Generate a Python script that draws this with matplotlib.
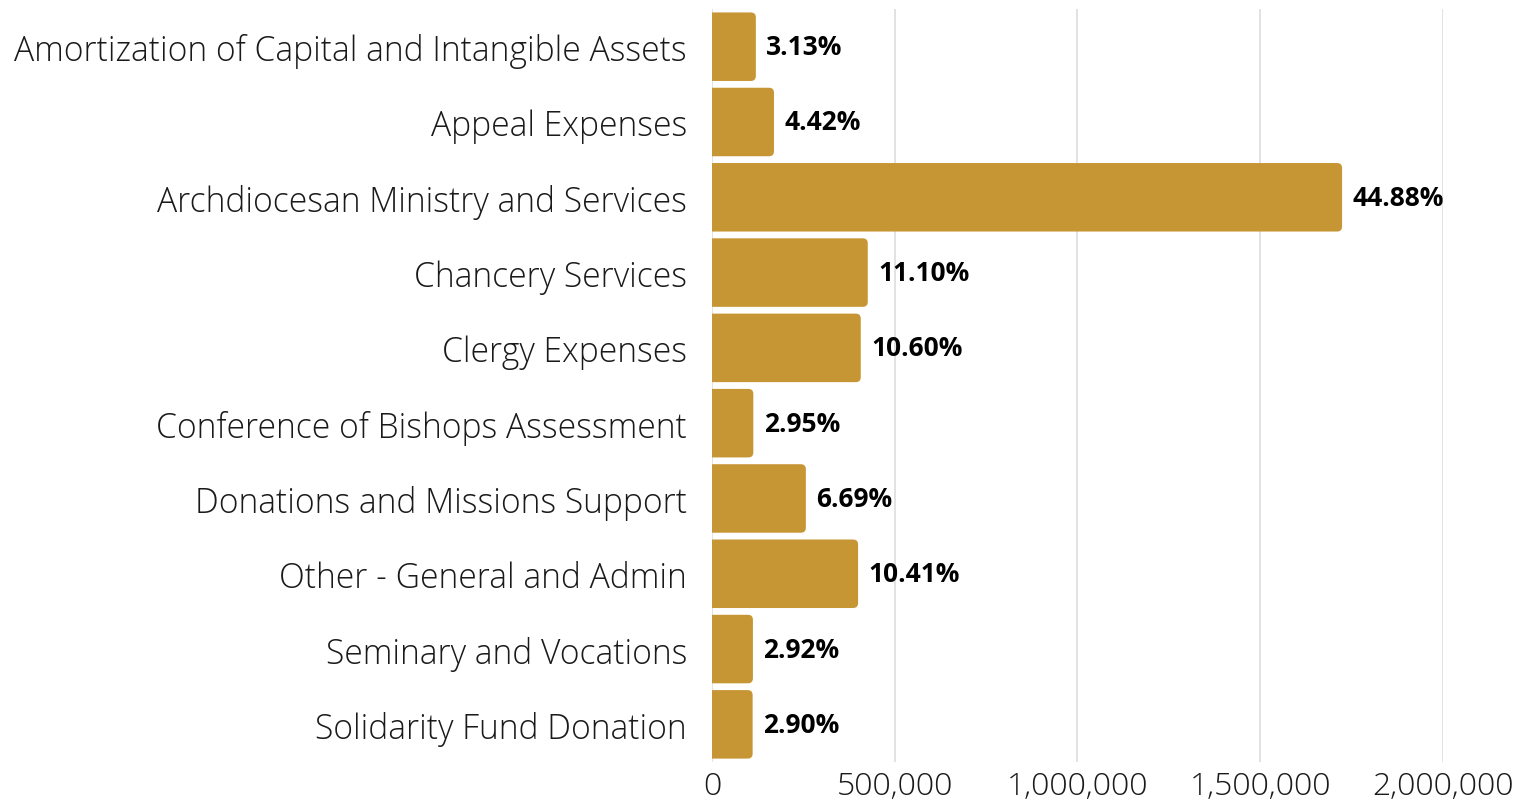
import matplotlib.pyplot as plt
from matplotlib.ticker import FuncFormatter
from matplotlib.patches import FancyBboxPatch

categories = [
    "Amortization of Capital and Intangible Assets",
    "Appeal Expenses",
    "Archdiocesan Ministry and Services",
    "Chancery Services",
    "Clergy Expenses",
    "Conference of Bishops Assessment",
    "Donations and Missions Support",
    "Other - General and Admin",
    "Seminary and Vocations",
    "Solidarity Fund Donation",
]
values = [120200, 169800, 1724000, 426400, 407200, 113300, 257000, 399900, 112200, 111400]
pct_labels = ["3.13%", "4.42%", "44.88%", "11.10%", "10.60%",
              "2.95%", "6.69%", "10.41%", "2.92%", "2.90%"]

BAR = "#C79634"
FONT = "Open Sans"

fig = plt.figure(figsize=(15.31, 8.04), dpi=100)
ax = fig.add_axes([0.465, 0.051, 0.4775, 0.9365])

bars = ax.barh(range(len(categories)), values, height=0.91, color=BAR, zorder=3)

ax.set_xlim(0, 2000000)
ax.set_ylim(9.5, -0.5)

# rounded right corners (~5 px); left corners pushed outside the axes and clipped
xpp = 2000000 / (0.4775 * 1531)
ypp = 10 / (0.9365 * 804)
r = 5 * xpp
for b in bars:
    b.set_visible(False)
    ax.add_patch(FancyBboxPatch((b.get_x() - 3 * r, b.get_y()), b.get_width() + 3 * r,
                                b.get_height(),
                                boxstyle=f"round,pad=0,rounding_size={r}",
                                mutation_aspect=ypp / xpp,
                                facecolor=BAR, edgecolor="none", zorder=3))

for i, (v, lab) in enumerate(zip(values, pct_labels)):
    ax.text(v + 28000, i, lab, va="center", ha="left", fontsize=19,
            fontweight="bold", color="black", family=FONT, zorder=4)

ax.set_xticks([0, 500000, 1000000, 1500000, 2000000])
ax.xaxis.set_major_formatter(FuncFormatter(lambda x, _: f"{int(x):,}"))
ax.set_yticks(range(len(categories)))
ax.set_yticklabels(categories)

for lab in ax.get_yticklabels():
    lab.set_fontfamily(FONT)
    lab.set_fontweight("light")
    lab.set_fontsize(24.2)
    lab.set_color("#1a1a1a")
for lab in ax.get_xticklabels():
    lab.set_fontfamily(FONT)
    lab.set_fontweight("light")
    lab.set_fontsize(23)
    lab.set_color("#1a1a1a")

ax.tick_params(axis="y", length=0, pad=18)
ax.tick_params(axis="x", length=0, pad=6)
ax.grid(axis="x", color="#dddddd", linewidth=1.2, zorder=0)
for s in ax.spines.values():
    s.set_visible(False)

fig.savefig("out.png", dpi=100)
